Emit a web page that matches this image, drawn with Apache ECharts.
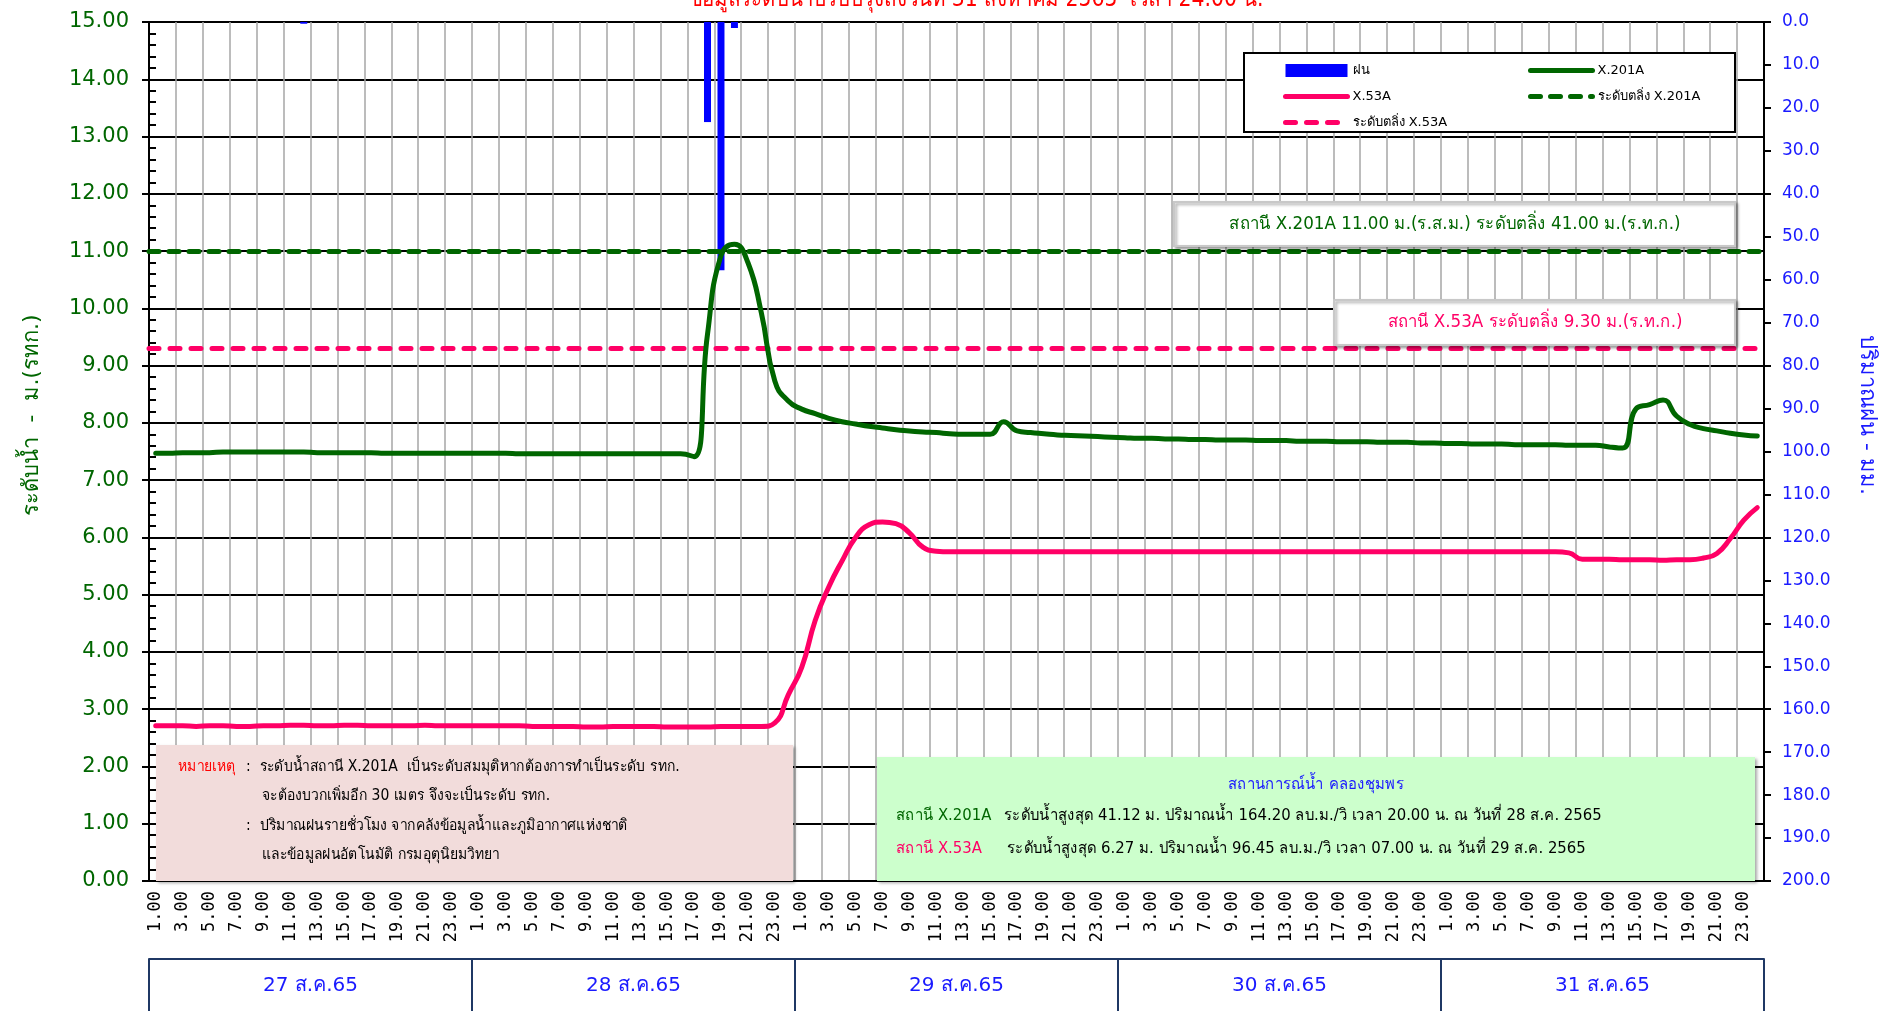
<!DOCTYPE html>
<html><head><meta charset="utf-8">
<script src="https://cdn.jsdelivr.net/npm/echarts@6/dist/echarts.min.js"></script>
<style>html,body{margin:0;padding:0;background:#fff}#c{width:1885px;height:1011px}</style>
</head><body><div id="c"></div><script>
// ---------------- data ----------------
const days = ['27 ส.ค.65','28 ส.ค.65','29 ส.ค.65','30 ส.ค.65','31 ส.ค.65'];
const hourLabels = ['1.00','2.00','3.00','4.00','5.00','6.00','7.00','8.00','9.00','10.00','11.00','12.00',
  '13.00','14.00','15.00','16.00','17.00','18.00','19.00','20.00','21.00','22.00','23.00','24.00'];
// hourly rainfall (mm)
const rainfall = [
  0,0,0,0,0,0,0,0,0,0,0,0.4,0,0,0,0,0,0,0,0,0,0,0,0,
  0,0,0,0,0,0,0,0,0,0,0,0,0,0,0,0,0,23.3,57.8,1.4,0,0,0,0,
  0,0,0,0,0,0,0,0,0,0,0,0,0,0,0,0,0,0,0,0,0,0,0,0,
  0,0,0,0,0,0,0,0,0,0,0,0,0,0,0,0,0,0,0,0,0,0,0,0,
  0,0,0,0,0,0,0,0,0,0,0,0,0,0,0,0,0,0,0,0,0,0,0,0
];
// water level X.201A (m)
const levelX201A = [
  7.47,7.47,7.48,7.48,7.48,7.49,7.49,7.49,7.49,7.49,7.49,7.49,7.48,7.48,7.48,7.48,7.48,7.47,7.47,7.47,7.47,7.47,7.47,7.47,
  7.47,7.47,7.47,7.46,7.46,7.46,7.46,7.46,7.46,7.46,7.46,7.46,7.46,7.46,7.46,7.46,7.41,9.55,10.92,11.12,10.80,9.92,8.73,8.38,
  8.24,8.16,8.08,8.02,7.98,7.94,7.91,7.88,7.86,7.84,7.83,7.81,7.80,7.80,7.80,8.02,7.86,7.83,7.81,7.79,7.78,7.77,7.76,7.75,
  7.74,7.73,7.73,7.72,7.72,7.71,7.71,7.70,7.70,7.70,7.69,7.69,7.69,7.68,7.68,7.68,7.67,7.67,7.67,7.66,7.66,7.66,7.65,7.65,
  7.64,7.64,7.63,7.63,7.63,7.62,7.62,7.62,7.62,7.61,7.61,7.61,7.58,7.56,8.25,8.32,8.40,8.12,7.97,7.90,7.86,7.82,7.79,7.77
];
// water level X.53A (m)
const levelX53A = [
  2.71,2.71,2.71,2.70,2.71,2.71,2.70,2.70,2.71,2.71,2.72,2.72,2.71,2.71,2.72,2.72,2.71,2.71,2.71,2.71,2.72,2.71,2.71,2.71,
  2.71,2.71,2.71,2.71,2.70,2.70,2.70,2.70,2.69,2.69,2.70,2.70,2.70,2.70,2.69,2.69,2.69,2.69,2.70,2.70,2.70,2.70,2.76,3.25,
  3.73,4.55,5.13,5.59,6.00,6.22,6.27,6.24,6.08,5.83,5.76,5.75,5.75,5.75,5.75,5.75,5.75,5.75,5.75,5.75,5.75,5.75,5.75,5.75,
  5.75,5.75,5.75,5.75,5.75,5.75,5.75,5.75,5.75,5.75,5.75,5.75,5.75,5.75,5.75,5.75,5.75,5.75,5.75,5.75,5.75,5.75,5.75,5.75,
  5.75,5.75,5.75,5.75,5.75,5.75,5.75,5.75,5.75,5.73,5.62,5.62,5.62,5.61,5.61,5.61,5.60,5.61,5.61,5.64,5.72,5.98,6.30,6.52
];
const bankX201A = 11.00;
const bankX53A = 9.30;

// ---------------- chart ----------------
const categories = [];
days.forEach(d => hourLabels.forEach(h => categories.push(d + '|' + h)));

const FONT = "Tahoma, 'DejaVu Sans', 'Noto Sans', sans-serif";
const GREEN = '#006600', PINK = '#ff0066', BLUE = '#0000ff', LBLUE = '#1a1aff';
const DASH_G = [10, 10], DASH_P = [10, 11];

function txt(x, y, text, color, size, align, extra) {
  return Object.assign({type: 'text', x: x, y: y, z: 20, scaleX: 0.93,
    style: {text: text, fill: color, fontSize: size, fontFamily: FONT,
      align: align || 'left', verticalAlign: 'middle'}}, extra || {});
}
function box(x, y, w, h, fill, stroke, shadow) {
  return {type: 'rect', z: 15, shape: {x: x, y: y, width: w, height: h},
    style: Object.assign({fill: fill, stroke: stroke || null, lineWidth: stroke ? 2 : 0},
      shadow ? {shadowBlur: 3, shadowOffsetX: 2, shadowOffsetY: 2, shadowColor: 'rgba(0,0,0,0.35)'} : {})};
}
function lineItem(name, color, dash) {
  return {name: name, itemStyle: {opacity: 0},
    lineStyle: {color: color, width: 5, type: dash || 'solid', cap: 'round'}};
}

const chart = echarts.init(document.getElementById('c'));
chart.setOption({
  animation: false,
  backgroundColor: '#fff',
  grid: {left: 149, right: 121, top: 22, bottom: 130},
  legend: [
    {orient: 'vertical', left: 1278, top: 59, itemWidth: 62, itemHeight: 13, itemGap: 13, z: 30,
      textStyle: {fontSize: 13, fontFamily: FONT, color: '#000'},
      data: [{name: 'ฝน', icon: 'rect'}, lineItem('X.53A', PINK), lineItem('ระดับตลิ่ง X.53A', PINK, DASH_P)]},
    {orient: 'vertical', left: 1523, top: 59, itemWidth: 62, itemHeight: 13, itemGap: 13, z: 30,
      textStyle: {fontSize: 13, fontFamily: FONT, color: '#000'},
      data: [lineItem('X.201A', GREEN), lineItem('ระดับตลิ่ง X.201A', GREEN, DASH_G)]}
  ],
  xAxis: [
    {type: 'category', data: categories, boundaryGap: true,
      axisLine: {lineStyle: {color: '#000', width: 2}},
      axisTick: {interval: 0, length: 6, lineStyle: {color: '#000', width: 1.5}},
      axisLabel: {interval: 1, rotate: 90, margin: 10, color: '#000', fontSize: 17,
        fontFamily: "'DejaVu Sans Mono', monospace", formatter: v => v.split('|')[1]},
      splitLine: {show: true, interval: 1, lineStyle: {color: '#a6a6a6', width: 1.5}}},
    {type: 'category', data: days, position: 'bottom', offset: 78, boundaryGap: true,
      axisLine: {show: true, onZero: false, lineStyle: {color: '#1f3864', width: 2}},
      axisTick: {show: true, interval: 0, length: 70, lineStyle: {color: '#1f3864', width: 2}},
      axisLabel: {color: LBLUE, fontSize: 20, fontFamily: FONT, margin: 17},
      splitLine: {show: false}}
  ],
  yAxis: [
    {type: 'value', min: 0, max: 15, interval: 1, position: 'left',
      axisLine: {show: true, lineStyle: {color: '#000', width: 2}},
      axisTick: {show: true, length: 7, lineStyle: {color: '#000', width: 2}},
      axisLabel: {color: GREEN, fontSize: 21, fontFamily: FONT, margin: 20, formatter: v => v.toFixed(2)},
      splitLine: {show: true, lineStyle: {color: '#000', width: 2}}},
    {type: 'value', min: 0, max: 200, interval: 10, inverse: true, position: 'right',
      axisLine: {show: true, lineStyle: {color: '#000', width: 2}},
      axisTick: {show: true, length: 7, lineStyle: {color: '#000', width: 2}},
      axisLabel: {color: LBLUE, fontSize: 17, fontFamily: FONT, margin: 18, formatter: v => v.toFixed(1)},
      splitLine: {show: false}},
    {type: 'value', min: 0, max: 15, interval: 1, position: 'left',
      axisLine: {show: false}, axisLabel: {show: false}, splitLine: {show: false},
      axisTick: {show: true, inside: true, length: 7, lineStyle: {color: '#000', width: 2}},
      minorTick: {show: true, splitNumber: 5, length: 7, lineStyle: {color: '#000', width: 2}}}
  ],
  series: [
    {name: 'ฝน', type: 'bar', xAxisIndex: 0, yAxisIndex: 1, data: rainfall, barWidth: 7,
      itemStyle: {color: BLUE}, z: 3},
    {name: 'ระดับตลิ่ง X.201A', type: 'line', xAxisIndex: 0, yAxisIndex: 0, data: [], symbol: 'none',
      lineStyle: {color: GREEN, width: 5, type: DASH_G, cap: 'round'}, itemStyle: {color: GREEN},
      markLine: {silent: true, symbol: 'none', label: {show: false},
        lineStyle: {color: GREEN, width: 5, type: DASH_G, cap: 'round'}, data: [{yAxis: bankX201A}]}, z: 4},
    {name: 'ระดับตลิ่ง X.53A', type: 'line', xAxisIndex: 0, yAxisIndex: 0, data: [], symbol: 'none',
      lineStyle: {color: PINK, width: 5, type: DASH_P, cap: 'round'}, itemStyle: {color: PINK},
      markLine: {silent: true, symbol: 'none', label: {show: false},
        lineStyle: {color: PINK, width: 5, type: DASH_P, cap: 'round'}, data: [{yAxis: bankX53A}]}, z: 4},
    {name: 'X.201A', type: 'line', xAxisIndex: 0, yAxisIndex: 0, data: levelX201A, symbol: 'none', smooth: true,
      lineStyle: {color: GREEN, width: 5, cap: 'round'}, itemStyle: {color: GREEN}, z: 5},
    {name: 'X.53A', type: 'line', xAxisIndex: 0, yAxisIndex: 0, data: levelX53A, symbol: 'none', smooth: true,
      lineStyle: {color: PINK, width: 5, cap: 'round'}, itemStyle: {color: PINK}, z: 5}
  ],
  graphic: [
    txt(976, 0, 'ข้อมูลระดับน้ำปรับปรุงถึงวันที่ 31 สิงหาคม 2565  เวลา 24.00 น.', '#ff0000', 24, 'center', {scaleX: 0.85}),
    txt(32, 415, 'ระดับน้ำ  -  ม.(รทก.)', GREEN, 22, 'center', {rotation: Math.PI / 2, scaleX: 1}),
    txt(1867, 415, 'ปริมาณฝน - มม.', LBLUE, 22, 'center', {rotation: -Math.PI / 2, scaleX: 1}),
    // legend frame
    Object.assign(box(1244, 53, 491, 79, '#fff', '#000'), {z: 14}),
    // bank level notes
    box(1174, 202, 561, 44, '#fff', '#c8c8c8', true),
    txt(1455, 224, 'สถานี X.201A 11.00 ม.(ร.ส.ม.) ระดับตลิ่ง 41.00 ม.(ร.ท.ก.)', GREEN, 18, 'center'),
    box(1334, 300, 401, 45, '#fff', '#c8c8c8', true),
    txt(1535, 322, 'สถานี X.53A ระดับตลิ่ง 9.30 ม.(ร.ท.ก.)', PINK, 18, 'center'),
    // remark box
    box(156, 745, 637, 136, '#f2dcdb', null, true),
    txt(178, 767, 'หมายเหตุ', '#ff0000', 15),
    txt(246, 767, ':  ระดับน้ำสถานี X.201A  เป็นระดับสมมุติหากต้องการทำเป็นระดับ รทก.', '#000', 15),
    txt(262, 796, 'จะต้องบวกเพิ่มอีก 30 เมตร จึงจะเป็นระดับ รทก.', '#000', 15),
    txt(246, 826, ':  ปริมาณฝนรายชั่วโมง จากคลังข้อมูลน้ำและภูมิอากาศแห่งชาติ', '#000', 15),
    txt(262, 855, 'และข้อมูลฝนอัตโนมัติ กรมอุตุนิยมวิทยา', '#000', 15),
    // situation box
    box(877, 757, 878, 124, '#ccffcc', null, true),
    txt(1316, 785, 'สถานการณ์น้ำ คลองชุมพร', LBLUE, 16, 'center'),
    txt(896, 816, 'สถานี X.201A', GREEN, 16),
    txt(1004, 816, 'ระดับน้ำสูงสุด 41.12 ม. ปริมาณน้ำ 164.20 ลบ.ม./วิ เวลา 20.00 น. ณ วันที่ 28 ส.ค. 2565', '#000', 16),
    txt(896, 849, 'สถานี X.53A', PINK, 16),
    txt(1007, 849, 'ระดับน้ำสูงสุด 6.27 ม. ปริมาณน้ำ 96.45 ลบ.ม./วิ เวลา 07.00 น. ณ วันที่ 29 ส.ค. 2565', '#000', 16)
  ]
});
</script></body></html>
